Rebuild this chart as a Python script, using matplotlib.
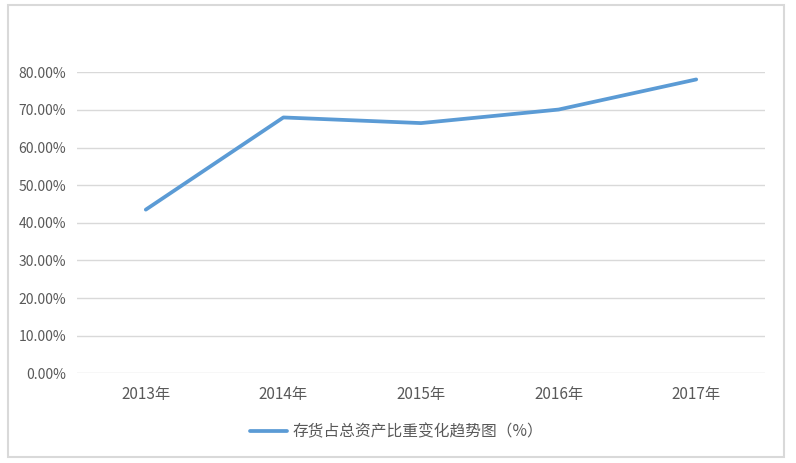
import matplotlib.pyplot as plt
from matplotlib.patches import Rectangle
from matplotlib.ticker import FuncFormatter

plt.rcParams['font.family'] = ['Noto Sans CJK SC', 'DejaVu Sans']

# 数据
years = ['2013年', '2014年', '2015年', '2016年', '2017年']
ratio = [0.435, 0.680, 0.665, 0.701, 0.781]
series_name = '存货占总资产比重变化趋势图（%）'

W, H = 796, 463
fig = plt.figure(figsize=(W / 100, H / 100), dpi=100)

# 外框
fig.patches.append(Rectangle((8 / W, 1 - 457 / H), 776 / W, 452 / H,
                             transform=fig.transFigure, fill=False,
                             edgecolor='#d9d9d9', linewidth=1.5))

ax = fig.add_axes([77 / W, 1 - 373.3 / H, 688 / W, 301 / H])

x = range(len(years))
line, = ax.plot(x, ratio, color='#5b9bd5', linewidth=2.7,
                solid_capstyle='round', label=series_name)

ax.set_xlim(-0.5, len(years) - 0.5)
ax.set_ylim(0, 0.8)
ax.set_yticks([i / 10 for i in range(9)])
ax.yaxis.set_major_formatter(FuncFormatter(lambda v, p: f'{v * 100:.2f}%'))
ax.set_xticks(list(x))
ax.set_xticklabels(years)

ax.grid(axis='y', color='#d9d9d9', linewidth=1)
ax.set_axisbelow(True)
for s in ax.spines.values():
    s.set_visible(False)
ax.tick_params(length=0, colors='#595959')
ax.tick_params(axis='y', pad=8, labelsize=10)
ax.tick_params(axis='x', pad=9, labelsize=11)

fig.legend(handles=[line], loc='center', bbox_to_anchor=(397 / W, 1 - 432 / H),
           frameon=False, fontsize=11.3, handlelength=2.3, handletextpad=0.4,
           labelcolor='#595959')

fig.savefig('out.png', dpi=100)
